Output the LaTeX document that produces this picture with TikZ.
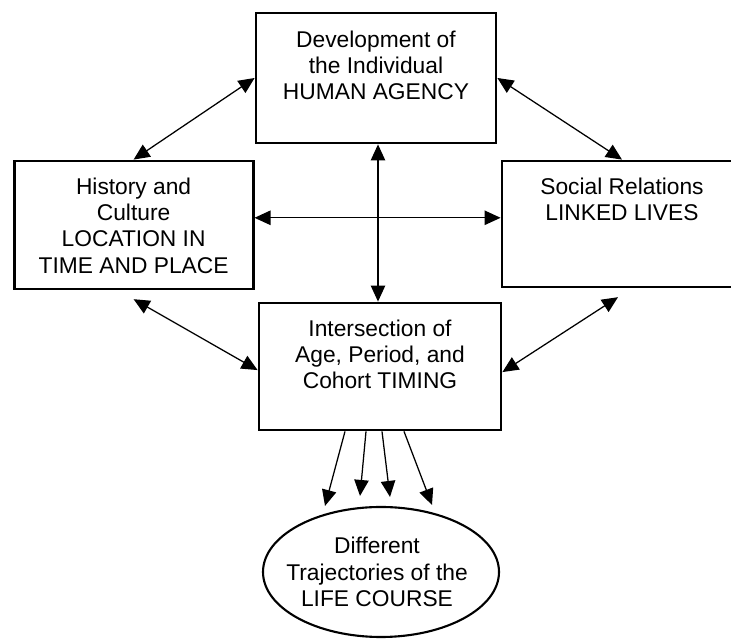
\documentclass[tikz,border=0pt]{standalone}
\usepackage{fontspec}
\setmainfont{Liberation Sans}
\usepackage{tikz}
\usetikzlibrary{arrows.meta,positioning,shapes.geometric}

\tikzset{
  box/.style={draw,line width=2pt,rectangle,inner sep=0pt},
  txt/.style={align=center,inner sep=0pt,font=\fontsize{16.2}{18.7}\selectfont},
  dbl/.style={line width=0.9pt,{Triangle[length=0.4cm,width=0.36cm]}-{Triangle[length=0.4cm,width=0.36cm]}},
  sgl/.style={line width=0.9pt,-{Triangle[length=0.4cm,width=0.36cm]}}
}

\begin{document}
\begin{tikzpicture}
\useasboundingbox (0,0) rectangle (18.275,16);
% boxes
\node[box,minimum width=6cm,minimum height=3.25cm] (agency) at (9.4,14.05) {};
\node[box,minimum width=5.975cm,minimum height=3.2cm] (history) at (3.34,10.375) {};
\node[box,minimum width=6cm,minimum height=3.15cm] (social) at (15.55,10.4) {};
\node[box,minimum width=6.05cm,minimum height=3.175cm] (timing) at (9.5,6.8375) {};
\node[draw,ellipse,line width=1.5pt,minimum width=5.9cm,minimum height=3.25cm,inner sep=0pt] (course) at (9.525,1.7) {};
% texts
\node[txt,below=0.47cm of agency.north] (agencytxt) {Development of\\the Individual\\HUMAN AGENCY};
\node[txt,below=0.45cm of history.north] (historytxt) {History and\\Culture\\LOCATION IN\\TIME AND PLACE};
\node[txt,below=0.45cm of social.north] (socialtxt) {Social Relations\\LINKED LIVES};
\node[txt,below=0.45cm of timing.north] (timingtxt) {Intersection of\\Age, Period, and\\Cohort TIMING};
\node[txt] (coursetxt) at ([xshift=-0.1cm]course.center) {Different\\Trajectories of the\\LIFE COURSE};
% links
\draw[dbl] (history.north) -- (agency.west);
\draw[dbl] (agency.east) -- (social.north);
\draw[dbl] ([yshift=0.18cm]history.east) -- ([yshift=0.18cm]history.east -| social.west);
\draw[dbl] ([xshift=0.05cm]agency.south) -- ([xshift=0.05cm]agency.south |- timing.north);
\draw[dbl] ([yshift=-0.22cm]history.south) -- ([yshift=-0.09cm]timing.west);
\draw[dbl] ([shift={(-0.1,-0.22)}]social.south) -- ([yshift=-0.14cm]timing.east);
% to the life course
\draw[sgl] ([xshift=-0.875cm]timing.south) -- ([shift={(-1.4,0)}]course.north);
\draw[sgl] ([xshift=-0.35cm]timing.south) -- ([shift={(-0.525,0.25)}]course.north);
\draw[sgl] ([xshift=0.05cm]timing.south) -- ([shift={(0.225,0.225)}]course.north);
\draw[sgl] ([xshift=0.6cm]timing.south) -- ([shift={(1.275,0.025)}]course.north);
\end{tikzpicture}
\end{document}
